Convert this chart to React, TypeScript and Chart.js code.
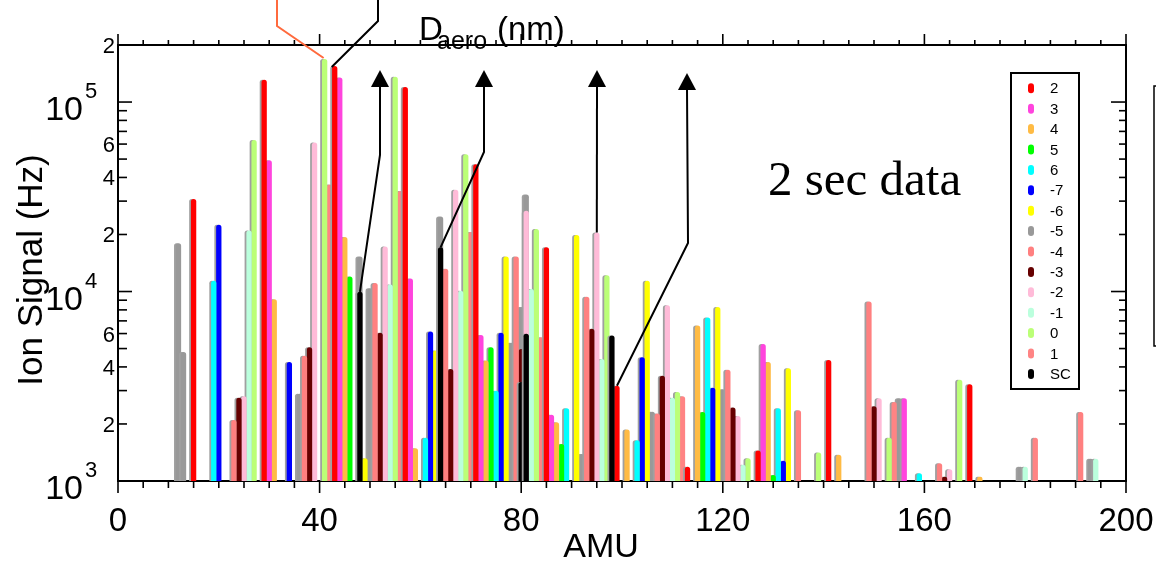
import React, { useEffect, useRef } from "react";
import { Chart, registerables } from "chart.js";

Chart.register(...registerables);

// ---- data: [AMU, ion signal (Hz)] per series ----
const series2 = [[15, 30800], [29, 131000], [43, 155000], [57, 120000], [71, 47000], [85, 17100], [99, 3180], [113, 1190], [127, 1450], [141, 4350], [169, 3240]];
const series3 = [[30, 49300], [44, 134600], [58, 11700], [72, 5900], [86, 2240], [128, 5290], [156, 2730]];
const series4 = [[31, 9100], [45, 19400], [59, 1490], [73, 4320], [87, 2040], [101, 1870], [115, 6620], [129, 4250], [143, 1375], [171, 1054]];
const series5 = [[46, 12000], [74, 5080], [88, 1570], [116, 2310], [130, 1076]];
const series6 = [[19, 11400], [61, 1690], [75, 2990], [89, 2420], [103, 1640], [117, 7300], [131, 2420], [159, 1099]];
const seriesM7 = [[20, 22500], [34, 4250], [62, 6150], [76, 6050], [104, 4500], [118, 3110], [132, 1280]];
const seriesM6 = [[49, 1320], [63, 4880], [77, 15300], [91, 19900], [105, 11400], [119, 8280], [133, 3930]];
const seriesM5 = [[12, 18000], [13, 4800], [36, 2890], [48, 15300], [50, 10400], [64, 24900], [78, 5360], [80, 8280], [81, 32500], [92, 1390], [106, 2320], [120, 3050], [155, 2730], [179, 1190], [193, 1310]];
const seriesM4 = [[23, 2100], [37, 4580], [51, 11100], [65, 13200], [79, 15300], [93, 9380], [107, 2270], [121, 3860], [135, 2360], [149, 8870], [163, 1240], [191, 2310]];
const seriesM3 = [[24, 2750], [38, 5080], [52, 6050], [66, 3900], [80, 4980], [94, 6360], [108, 3590], [122, 2440], [150, 2480], [164, 1054]];
const seriesM2 = [[25, 2800], [39, 61200], [53, 17300], [67, 34400], [81, 26700], [95, 20500], [109, 8460], [123, 2200], [151, 2730], [165, 1154]];
const seriesM1 = [[26, 21000], [54, 10900], [68, 10100], [82, 10300], [96, 4400], [110, 2750], [124, 1220], [180, 1190], [194, 1310]];
const series0 = [[27, 63000], [41, 168700], [55, 135800], [69, 53100], [83, 21400], [97, 12200], [111, 2950], [125, 1320], [139, 1415], [153, 1690], [167, 3420]];
const series1 = [[42, 36700], [56, 33900], [70, 20600], [84, 5740], [112, 2800], [154, 2610], [182, 1690]];
const seriesSC = [[48, 9960], [64, 17100], [80, 3330], [81, 5990], [98, 5860]];

const seriesLabels = ["2", "3", "4", "5", "6", "-7", "-6", "-5", "-4", "-3", "-2", "-1", "0", "1", "SC"];
const seriesValues = [series2, series3, series4, series5, series6, seriesM7, seriesM6, seriesM5, seriesM4, seriesM3, seriesM2, seriesM1, series0, series1, seriesSC];
const seriesColors = ["#ff0000", "#ff44dd", "#ffbb44", "#00ff00", "#00ffff", "#0000ff", "#ffff00", "#999999", "#ff8080", "#660000", "#ffbbd8", "#bbffdd", "#bbff77", "#ff8484", "#000000"];
const seriesOrder = [1, 1, 1, 1, 1, 1, 1, 2, 1, 1, 1, 1, 1, 1, 0];

const xMajorTicks = [0, 40, 80, 120, 160, 200];
const yMinorTicks = [2000, 4000, 6000, 20000, 40000, 60000, 200000];
const yMinorLabels = ["2", "4", "6", "2", "4", "6", "2"];
const yDecadeTicks = [1000, 10000, 100000];
const yDecadeExponents = ["3", "4", "5"];

const FONT = "'Liberation Sans', Arial, Helvetica, sans-serif";
const BAR_WIDTH = 5.3;

function findValue(list: number[][], amu: number): number {
  const p = list.find((d) => d[0] === amu);
  return p ? p[1] : 1000;
}

function polyline(ctx: CanvasRenderingContext2D, pts: number[][]) {
  ctx.beginPath();
  ctx.moveTo(pts[0][0], pts[0][1]);
  for (let i = 1; i < pts.length; i++) ctx.lineTo(pts[i][0], pts[i][1]);
  ctx.stroke();
}

const shadowPlugin = {
  id: "barShadow",
  beforeDatasetDraw(chart: any) {
    const ctx = chart.ctx;
    ctx.save();
    ctx.shadowColor = "#a0a0a0";
    ctx.shadowOffsetX = -1.8;
    ctx.shadowOffsetY = 0;
    ctx.shadowBlur = 0;
  },
  afterDatasetDraw(chart: any) {
    chart.ctx.restore();
  },
};

const decoPlugin = {
  id: "decorations",
  afterDatasetsDraw(chart: any) {
    const ctx: CanvasRenderingContext2D = chart.ctx;
    const a = chart.chartArea;
    const xs = chart.scales.x;
    const ys = chart.scales.y;
    ctx.save();
    ctx.strokeStyle = "#000";
    ctx.fillStyle = "#000";
    ctx.lineCap = "butt";

    // frame top & right
    ctx.lineWidth = 2;
    polyline(ctx, [[a.left - 1, a.top], [a.right, a.top], [a.right, a.bottom + 1]]);

    // x ticks (bottom and top, outward)
    ctx.lineWidth = 1.6;
    for (let v = 0; v <= 200; v += 5) {
      const px = xs.getPixelForValue(v);
      const major = v % 40 === 0;
      polyline(ctx, [[px, a.bottom], [px, a.bottom + (major ? 12 : 7)]]);
      polyline(ctx, [[px, a.top], [px, a.top - (major ? 11 : 5)]]);
    }
    // y ticks (left and right, inward)
    for (let d = 1000; d <= 100000; d *= 10) {
      for (let m = 1; m <= 9; m++) {
        const v = d * m;
        if (v > 200000) continue;
        const py = ys.getPixelForValue(v);
        const major = m === 1;
        polyline(ctx, [[a.left, py], [a.left + (major ? 14 : 9), py]]);
        polyline(ctx, [[a.right, py], [a.right - (major ? 15 : 7), py]]);
      }
    }

    // x labels
    ctx.font = `33px ${FONT}`;
    ctx.textAlign = "center";
    ctx.textBaseline = "alphabetic";
    xMajorTicks.forEach((v) => ctx.fillText(String(v), xs.getPixelForValue(v), a.bottom + 50));

    // y labels
    ctx.font = `22px ${FONT}`;
    ctx.textAlign = "right";
    yMinorTicks.forEach((v, i) => ctx.fillText(yMinorLabels[i], a.left - 3, ys.getPixelForValue(v) + 8));
    yDecadeTicks.forEach((v, i) => {
      const py = ys.getPixelForValue(v);
      ctx.font = `34px ${FONT}`;
      ctx.textAlign = "right";
      ctx.fillText("10", a.left - 35, py + 18);
      ctx.font = `22px ${FONT}`;
      ctx.textAlign = "left";
      ctx.fillText(yDecadeExponents[i], a.left - 33, py - 4);
    });

    // axis titles
    ctx.font = `34px ${FONT}`;
    ctx.textAlign = "center";
    ctx.fillText("AMU", 601, 557);
    ctx.save();
    ctx.translate(42, 270);
    ctx.rotate(-Math.PI / 2);
    ctx.font = `35px ${FONT}`;
    ctx.fillText("Ion Signal (Hz)", 0, 0);
    ctx.restore();

    // D_aero (nm)
    ctx.textAlign = "left";
    ctx.font = `33px ${FONT}`;
    ctx.fillText("D", 419, 40);
    ctx.font = `25px ${FONT}`;
    ctx.fillText("aero", 437, 49);
    ctx.font = `33px ${FONT}`;
    ctx.fillText("(nm)", 497, 40);

    // 2 sec data
    ctx.font = `49px 'Liberation Serif', 'Times New Roman', serif`;
    ctx.fillText("2 sec data", 768, 195);

    // arrows from peak tops
    ctx.lineWidth = 2;
    const arrows = [
      { pt: [48, findValue(seriesSC, 48)], bend: [380, 155], tip: [380, 70] },
      { pt: [64, findValue(seriesSC, 64)], bend: [484, 152], tip: [484, 70] },
      { pt: [95, findValue(seriesM2, 95)], bend: null, tip: [597, 70] },
      { pt: [99, findValue(series2, 99)], bend: [688, 243], tip: [687, 73] },
    ];
    arrows.forEach((ar) => {
      const sx = xs.getPixelForValue(ar.pt[0]);
      const sy = ys.getPixelForValue(ar.pt[1]);
      const pts: number[][] = [[sx, sy]];
      if (ar.bend) pts.push(ar.bend);
      pts.push([ar.tip[0], ar.tip[1] + 16]);
      polyline(ctx, pts);
      ctx.beginPath();
      ctx.moveTo(ar.tip[0], ar.tip[1]);
      ctx.lineTo(ar.tip[0] - 9, ar.tip[1] + 17);
      ctx.lineTo(ar.tip[0] + 9, ar.tip[1] + 17);
      ctx.closePath();
      ctx.fill();
    });

    // lines from the top-left edge
    ctx.strokeStyle = "#ff6a3d";
    polyline(ctx, [[277, -2], [277, 26], [xs.getPixelForValue(41) - 1, ys.getPixelForValue(findValue(series0, 41)) - 1]]);
    ctx.strokeStyle = "#000";
    polyline(ctx, [[378, -2], [378, 21], [xs.getPixelForValue(43) - 3, ys.getPixelForValue(findValue(series2, 43)) + 1]]);

    // legend box
    ctx.lineWidth = 2;
    ctx.strokeRect(1011, 73, 68, 316);
    chart.data.datasets.forEach((ds: any, i: number) => {
      const cy = 88.3 + i * 20.4;
      ctx.fillStyle = ds.backgroundColor;
      ctx.beginPath();
      (ctx as any).roundRect(1028, cy - 5, 6, 10, 3);
      ctx.fill();
      ctx.fillStyle = "#000";
      ctx.font = `15px ${FONT}`;
      ctx.textAlign = "left";
      ctx.textBaseline = "middle";
      ctx.fillText(ds.label, 1050, cy + 1);
    });

    // partial box at right edge
    ctx.lineWidth = 1.5;
    ctx.strokeRect(1154, 86, 40, 260);

    ctx.restore();
  },
};

export default function App() {
  const canvasRef = useRef<HTMLCanvasElement | null>(null);

  useEffect(() => {
    if (!canvasRef.current) return;
    const datasets = seriesValues.map((list, i) => ({
      label: seriesLabels[i],
      data: list.map((p) => ({ x: p[0], y: p[1] })),
      backgroundColor: seriesColors[i],
      order: seriesOrder[i],
    }));
    const chart = new Chart(canvasRef.current, {
      type: "bar",
      data: { datasets },
      options: {
        animation: false,
        responsive: true,
        maintainAspectRatio: false,
        datasets: {
          bar: {
            grouped: false,
            barThickness: BAR_WIDTH,
            maxBarThickness: BAR_WIDTH,
            borderRadius: { topLeft: 2.6, topRight: 2.6, bottomLeft: 0, bottomRight: 0 },
            borderSkipped: "start",
            borderWidth: 0,
            inflateAmount: 0,
          },
        },
        layout: { padding: { left: 118, right: 30, top: 45, bottom: 80 } },
        plugins: { legend: { display: false }, tooltip: { enabled: false } },
        scales: {
          x: {
            type: "linear",
            min: 0,
            max: 200,
            offset: false,
            grid: { display: false, drawTicks: false, offset: false },
            ticks: { display: false },
            border: { display: true, color: "#000", width: 2 },
          },
          y: {
            type: "logarithmic",
            min: 1000,
            max: 200000,
            grid: { display: false, drawTicks: false },
            ticks: { display: false },
            border: { display: true, color: "#000", width: 2 },
          },
        },
      },
      plugins: [shadowPlugin, decoPlugin],
    } as any);
    return () => chart.destroy();
  }, []);

  return (
    <div style={{ position: "fixed", left: 0, top: 0, width: 1156, height: 561, background: "#fff" }}>
      <canvas ref={canvasRef} />
    </div>
  );
}
